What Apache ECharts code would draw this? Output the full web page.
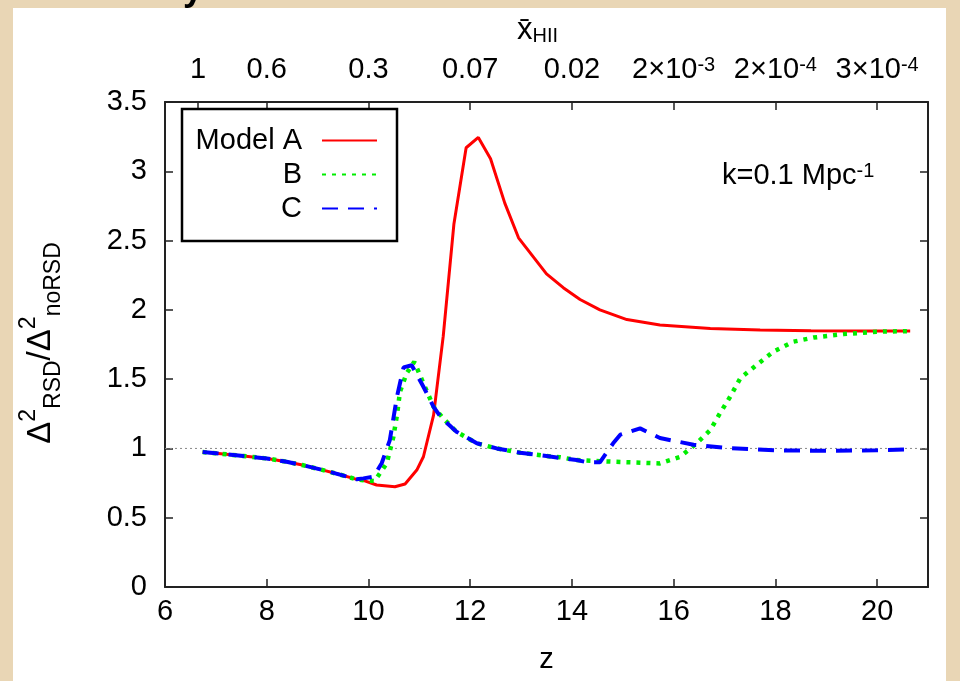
<!DOCTYPE html>
<html>
<head>
<meta charset="utf-8">
<script src="https://cdn.jsdelivr.net/npm/echarts@6/dist/echarts.min.js"></script>
<style>
  html, body { margin: 0; padding: 0; background: #e9d6b5; }
  #chart { width: 960px; height: 681px; }
</style>
</head>
<body>
<div id="chart"></div>
<script>
// redshift z and ratio values
var zA   = [6.74, 7.0, 7.54, 8.0, 8.39, 8.7, 9.05, 9.4, 9.77, 9.9, 10.16, 10.52, 10.72, 10.95, 11.08, 11.28, 11.47, 11.68, 11.92, 12.16, 12.4, 12.68, 12.95, 13.5, 13.83, 14.16, 14.55, 15.08, 15.73, 16.72, 17.7, 18.7, 19.7, 20.65];
var valA = [0.974, 0.965, 0.945, 0.928, 0.904, 0.88, 0.849, 0.815, 0.777, 0.77, 0.736, 0.724, 0.743, 0.844, 0.94, 1.24, 1.81, 2.62, 3.17, 3.244, 3.09, 2.77, 2.52, 2.26, 2.16, 2.075, 2.0, 1.93, 1.89, 1.866, 1.854, 1.849, 1.848, 1.847];

var zB   = [6.74, 7.0, 7.54, 8.0, 8.39, 8.7, 9.05, 9.4, 9.77, 9.9, 10.12, 10.36, 10.49, 10.56, 10.62, 10.75, 10.9, 11.08, 11.28, 11.47, 11.73, 12.13, 12.52, 12.98, 13.5, 13.77, 14.09, 14.36, 14.95, 15.73, 16.13, 16.45, 16.72, 16.91, 17.11, 17.31, 17.63, 17.96, 18.35, 18.75, 19.34, 19.99, 20.65];
var valB = [0.974, 0.965, 0.945, 0.928, 0.904, 0.88, 0.849, 0.815, 0.777, 0.77, 0.765, 0.893, 1.084, 1.24, 1.41, 1.542, 1.625, 1.47, 1.30, 1.217, 1.12, 1.037, 1.0, 0.969, 0.945, 0.936, 0.916, 0.911, 0.902, 0.892, 0.94, 1.037, 1.133, 1.253, 1.373, 1.506, 1.602, 1.698, 1.77, 1.80, 1.825, 1.842, 1.847];

var zC   = [6.74, 7.0, 7.54, 8.0, 8.39, 8.7, 9.05, 9.4, 9.77, 9.9, 10.1, 10.26, 10.42, 10.56, 10.69, 10.85, 11.08, 11.28, 11.44, 11.73, 12.13, 12.52, 12.98, 13.5, 14.09, 14.3, 14.55, 14.81, 14.95, 15.34, 15.73, 16.39, 17.04, 18.03, 19.01, 19.99, 20.65];
var valC = [0.974, 0.965, 0.945, 0.928, 0.904, 0.88, 0.849, 0.815, 0.777, 0.784, 0.796, 0.893, 1.06, 1.373, 1.585, 1.60, 1.445, 1.30, 1.217, 1.121, 1.037, 1.0, 0.969, 0.945, 0.916, 0.9, 0.9, 1.037, 1.099, 1.145, 1.075, 1.027, 1.003, 0.986, 0.983, 0.986, 0.993];

var seriesNames = ['Model A', 'B', 'C'];

var zTicks  = [6, 8, 10, 12, 14, 16, 18, 20];
var yTicks  = [0, 0.5, 1, 1.5, 2, 2.5, 3, 3.5];
// top axis: mean ionized fraction at given z
var topTickZ      = [6.65, 8, 10, 12, 14, 16, 18, 20];
var topTickLabels = ['1', '0.6', '0.3', '0.07', '0.02', '2×10^-3', '2×10^-4', '3×10^-4'];

var refLine = [[6, 1], [21, 1]];

(function () {
    'use strict';

    var FONT = 'Liberation Sans';
    var FS = 29;

    var chart = echarts.init(document.getElementById('chart'), null, { renderer: 'canvas' });

    function pairs(xs, ys) {
        return xs.map(function (x, i) { return [x, ys[i]]; });
    }

    function topLabel(v) {
        var best = 0;
        topTickZ.forEach(function (t, i) {
            if (Math.abs(t - v) < Math.abs(topTickZ[best] - v)) { best = i; }
        });
        var s = topTickLabels[best];
        var p = s.split('^');
        return p.length > 1 ? p[0] + '{sup|' + p[1] + '}' : s;
    }

    var supStyle = { fontSize: 20, verticalAlign: 'top', lineHeight: 18, fontFamily: FONT, color: '#000' };
    var subStyle = { fontSize: 20, verticalAlign: 'bottom', lineHeight: 18, fontFamily: FONT, color: '#000' };
    var bigSup = { fontSize: 23, verticalAlign: 'top', lineHeight: 20, fontFamily: FONT, color: '#000' };
    var bigSub = { fontSize: 23, verticalAlign: 'bottom', lineHeight: 20, fontFamily: FONT, color: '#000' };

    var option = {
        animation: false,
        backgroundColor: '#e9d6b5',
        textStyle: { fontFamily: FONT, color: '#000' },
        graphic: [
            { type: 'rect', z: -10, silent: true, shape: { x: 13, y: 8, width: 933, height: 673 }, style: { fill: '#fff' } },
            { type: 'text', silent: true, x: 183, y: 8, style: { text: 'y', font: 'bold 36px ' + FONT, fill: '#000', verticalAlign: 'bottom' } },
            {
                // y axis title, rotated
                type: 'text', silent: true, x: 41, y: 343, rotation: Math.PI / 2,
                style: {
                    text: '\u0394{sup|2}{sub|RSD}/\u0394{sup|2}{sub|noRSD}',
                    font: '33px ' + FONT, fill: '#000',
                    align: 'center', verticalAlign: 'middle', lineHeight: 48,
                    rich: { sup: bigSup, sub: bigSub }
                }
            },
            {
                type: 'text', silent: true, x: 722, y: 176,
                style: {
                    text: 'k=0.1 Mpc{sup|-1}', fill: '#000', verticalAlign: 'middle',
                    font: FS + 'px ' + FONT,
                    rich: { sup: supStyle }
                }
            }
        ],
        grid: { left: 165, right: 32, top: 102, bottom: 94 },
        legend: {
            data: seriesNames,
            orient: 'vertical',
            left: 182,
            top: 109,
            align: 'right',
            itemWidth: 55,
            itemHeight: 14,
            itemGap: 5,
            padding: [17, 19, 18, 8],
            borderColor: '#000',
            borderWidth: 2.5,
            backgroundColor: '#fff',
            itemStyle: { opacity: 0 },
            formatter: function (n) { return '{t|' + n + '}'; },
            textStyle: {
                rich: { t: { width: 112, align: 'right', fontSize: FS, lineHeight: 30, fontFamily: FONT, color: '#000', padding: [0, 15, 0, 0] } }
            }
        },
        xAxis: [
            {
                type: 'value', position: 'bottom', min: 6, max: 21,
                name: 'z', nameLocation: 'middle', nameGap: 58,
                nameTextStyle: { fontSize: FS, color: '#000' },
                axisLine: { show: true, onZero: false, lineStyle: { color: '#222', width: 2 } },
                axisTick: { inside: true, length: 8, customValues: zTicks, lineStyle: { color: '#222', width: 1.5 } },
                axisLabel: { customValues: zTicks, fontSize: FS, color: '#000', margin: 10 },
                splitLine: { show: false }
            },
            {
                type: 'value', position: 'top', min: 6, max: 21,
                name: 'x\u0304{sub|HII}', nameLocation: 'middle', nameGap: 56,
                nameTextStyle: { fontSize: FS + 2, color: '#000', padding: [0, 18, 0, 0], rich: { sub: subStyle } },
                axisLine: { show: true, onZero: false, lineStyle: { color: '#222', width: 2 } },
                axisTick: { inside: true, length: 8, customValues: topTickZ, lineStyle: { color: '#222', width: 1.5 } },
                axisLabel: {
                    customValues: topTickZ, fontSize: FS, color: '#000', margin: 18,
                    formatter: topLabel,
                    rich: { sup: supStyle }
                },
                splitLine: { show: false }
            }
        ],
        yAxis: [
            {
                type: 'value', min: 0, max: 3.5, interval: 0.5,
                axisLine: { show: true, onZero: false, lineStyle: { color: '#222', width: 2 } },
                axisTick: { inside: true, length: 8, lineStyle: { color: '#222', width: 1.5 } },
                axisLabel: { customValues: yTicks, fontSize: FS, color: '#000', margin: 18 },
                splitLine: { show: false }
            },
            {
                type: 'value', position: 'right', min: 0, max: 3.5, interval: 0.5,
                axisLine: { show: true, onZero: false, lineStyle: { color: '#222', width: 2 } },
                axisTick: { inside: true, length: 8, lineStyle: { color: '#222', width: 1.5 } },
                axisLabel: { show: false },
                splitLine: { show: false }
            }
        ],
        series: [
            {
                name: 'ref', type: 'line', data: refLine, symbol: 'none', silent: true,
                lineStyle: { color: '#888', width: 1, type: [2, 3] }, z: 1
            },
            {
                name: seriesNames[0], type: 'line', data: pairs(zA, valA), symbol: 'none',
                lineStyle: { color: '#ff0000', width: 3 }, itemStyle: { color: '#ff0000' }, z: 2
            },
            {
                name: seriesNames[1], type: 'line', data: pairs(zB, valB), symbol: 'none',
                lineStyle: { color: '#00ee00', width: 4.5, type: [4, 6] }, itemStyle: { color: '#00ee00' }, z: 3
            },
            {
                name: seriesNames[2], type: 'line', data: pairs(zC, valC), symbol: 'none',
                lineStyle: { color: '#0000ff', width: 4, type: [16, 10] }, itemStyle: { color: '#0000ff' }, z: 4
            }
        ]
    };

    chart.setOption(option);

    window.addEventListener('resize', function () {
        chart.resize();
    });
}());
</script>
</body>
</html>
